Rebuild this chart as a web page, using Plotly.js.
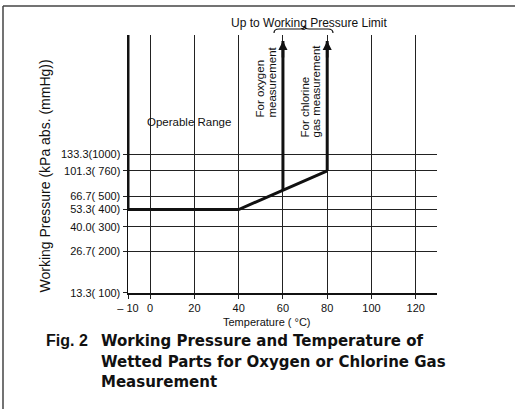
<!DOCTYPE html>
<html><head><meta charset="utf-8">
<script src="https://cdn.plot.ly/plotly-3.0.1.min.js"></script>
<style>html,body{margin:0;padding:0;background:#fff}</style>
</head><body><div id="chart" style="width:515px;height:409px"></div>
<script>
// ---- data ----
const tempTicks = [-10, 0, 20, 40, 60, 80, 100, 120];
const tempTickText = ['\u2013 10', '0', '20', '40', '60', '80', '100', '120'];
const pressTicks = [13.3, 26.7, 40.0, 53.3, 66.7, 101.3, 133.3];
const pressTickText = ['13.3( 100)', '26.7( 200)', '40.0( 300)', '53.3( 400)', '66.7( 500)', '101.3( 760)', '133.3(1000)'];
const boundaryTemp = [-10, -10, 40, 80];
const boundaryPress = [1000, 53.3, 53.3, 101.3];
const oxygenTemp = [60, 60];
const oxygenPress = [73.5, 880];
const chlorineTemp = [80, 80];
const chlorinePress = [101.3, 880];

// ---- layout helpers (pixel -> paper) ----
const W = 515, H = 409, ML = 128, MR = 78, MT = 35, MB = 116;
const PW = W - ML - MR, PH = H - MT - MB;
const px = x => (x - ML) / PW;
const py = y => (H - MB - y) / PH;

const FONT = 'Liberation Sans, Arial, Helvetica, sans-serif';
const INK = '#111';

const lineTrace = (x, y) => ({
  x: x, y: y, type: 'scatter', mode: 'lines', cliponaxis: false,
  line: {color: INK, width: 3}, hoverinfo: 'skip', showlegend: false
});
const traces = [
  lineTrace(boundaryTemp, boundaryPress),
  lineTrace(oxygenTemp, oxygenPress),
  lineTrace(chlorineTemp, chlorinePress)
];

const txt = (text, x, y, opts) => Object.assign({
  text: text, xref: 'paper', yref: 'paper', x: px(x), y: py(y),
  showarrow: false, xanchor: 'center', yanchor: 'middle',
  font: {family: FONT, size: 11.5, color: INK}
}, opts || {});

const arrowAt = (t, p) => ({
  x: t, y: Math.log10(p), xref: 'x', yref: 'y', text: '', showarrow: true,
  ax: 0, ay: 18, arrowhead: 2, arrowsize: 0.7, arrowwidth: 2.6, arrowcolor: INK,
  standoff: 0, startstandoff: 0
});

const capFont = {family: 'DejaVu Sans, Liberation Sans, Arial, sans-serif', size: 15, color: INK};

const annotations = [
  txt('Up to Working Pressure Limit', 309, 23, {font: {family: FONT, size: 12, color: INK}}),
  txt('Operable Range', 189, 122),
  txt('For oxygen', 259.5, 120, {textangle: -90, yanchor: 'bottom'}),
  txt('measurement', 271, 120, {textangle: -90, yanchor: 'bottom'}),
  txt('For chlorine', 304, 140, {textangle: -90, yanchor: 'bottom'}),
  txt('gas measurement', 315, 140, {textangle: -90, yanchor: 'bottom'}),
  txt('Temperature ( \u00b0C)', 267, 322, {font: {family: FONT, size: 11, color: INK}}),
  txt('Working Pressure (kPa abs. (mmHg))', 44, 176.5, {textangle: -90, font: {family: FONT, size: 14, color: INK}}),
  txt('<b>Fig. 2</b>', 44, 341, {xanchor: 'left', font: {family: 'Liberation Sans, Arial, sans-serif', size: 16, color: INK}}),
  txt('<b>Working Pressure and Temperature of</b>', 99, 341, {xanchor: 'left', font: capFont}),
  txt('<b>Wetted Parts for Oxygen or Chlorine Gas</b>', 99, 361.5, {xanchor: 'left', font: capFont}),
  txt('<b>Measurement</b>', 99, 381.5, {xanchor: 'left', font: capFont}),
  arrowAt(oxygenTemp[1], oxygenPress[1]),
  arrowAt(chlorineTemp[1], chlorinePress[1])
];

// brace path under the "Up to..." label (paper coords)
const P = (x, y) => px(x).toFixed(4) + ',' + py(y).toFixed(4);
const bracePath = 'M' + P(274, 33) + ' Q' + P(274, 29) + ' ' + P(279, 29) +
  ' L' + P(300, 29) + ' Q' + P(304.5, 29) + ' ' + P(304.5, 26) +
  ' Q' + P(304.5, 29) + ' ' + P(309, 29) + ' L' + P(328, 29) +
  ' Q' + P(333, 29) + ' ' + P(333, 33);

const shapes = [
  {type: 'line', xref: 'paper', yref: 'paper', x0: px(3), y0: py(6), x1: px(515), y1: py(6), line: {color: '#444', width: 1.5}},
  {type: 'line', xref: 'paper', yref: 'paper', x0: px(3), y0: py(6), x1: px(3), y1: py(409), line: {color: '#444', width: 1.5}},
  {type: 'path', xref: 'paper', yref: 'paper', path: bracePath, line: {color: INK, width: 1.2}}
];

const layout = {
  width: W, height: H,
  margin: {l: ML, r: MR, t: MT, b: MB, pad: 0},
  paper_bgcolor: '#fff', plot_bgcolor: '#fff',
  font: {family: FONT, size: 11, color: INK},
  showlegend: false,
  xaxis: {
    range: [-10, 129.6], tickvals: tempTicks, ticktext: tempTickText,
    showgrid: true, gridcolor: '#222', gridwidth: 1, zeroline: false,
    showline: true, linecolor: INK, linewidth: 1.5,
    ticks: 'outside', ticklen: 4, tickcolor: '#222', tickwidth: 1,
    tickfont: {family: FONT, size: 11, color: INK}
  },
  yaxis: {
    type: 'log', range: [Math.log10(13.3) - 0.0005, 2.988],
    tickvals: pressTicks, ticktext: pressTickText,
    showgrid: true, gridcolor: '#222', gridwidth: 1, zeroline: false,
    showline: true, linecolor: INK, linewidth: 1.5,
    ticks: 'outside', ticklen: 4, tickcolor: '#222', tickwidth: 1,
    tickfont: {family: FONT, size: 11, color: INK}
  },
  annotations: annotations,
  shapes: shapes
};

Plotly.newPlot('chart', traces, layout, {staticPlot: true, displayModeBar: false});
</script></body></html>
